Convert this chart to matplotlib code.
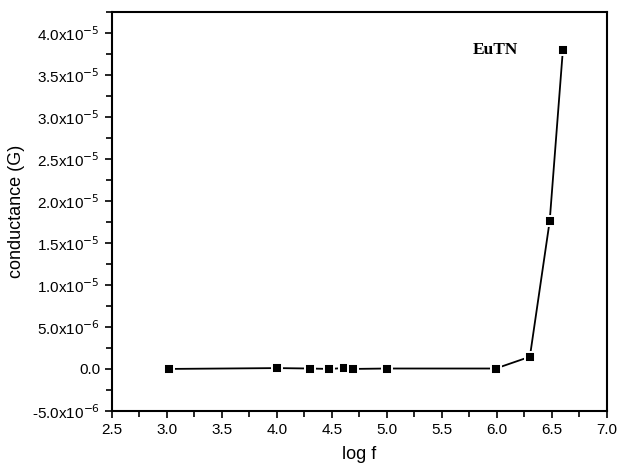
import matplotlib
matplotlib.use('Agg')
import matplotlib.pyplot as plt
from matplotlib.ticker import MultipleLocator, FuncFormatter

plt.rcParams['font.family'] = ['Liberation Sans', 'DejaVu Sans']

# log f and conductance (G)
log_f = [3.02, 4.0, 4.3, 4.47, 4.61, 4.69, 5.0, 5.99, 6.3, 6.48, 6.6]
conductance = [0.0, 0.1e-6, 0.05e-6, 0.0, 0.1e-6, 0.0, 0.05e-6, 0.05e-6,
               1.45e-6, 1.76e-5, 3.8e-5]

fig = plt.figure(figsize=(6.18, 4.68), dpi=100)
ax = fig.add_axes([0.181, 0.122, 0.801, 0.852])

ax.plot(log_f, conductance, color='black', lw=1.3)
# white edge gives the small gap between line and marker
ax.plot(log_f, conductance, ls='none', marker='s', ms=7.5, mew=1.4,
        markerfacecolor='black', markeredgecolor='white')

ax.set_xlim(2.5, 7.0)
ax.set_ylim(-5e-6, 4.25e-5)
ax.xaxis.set_major_locator(MultipleLocator(0.5))
ax.xaxis.set_minor_locator(MultipleLocator(0.25))
ax.yaxis.set_major_locator(MultipleLocator(5e-6))
ax.yaxis.set_minor_locator(MultipleLocator(2.5e-6))


def yfmt(v, pos):
    if abs(v) < 1e-12:
        return '0.0'
    exp = -5 if abs(v) >= 1e-5 - 1e-12 else -6
    return '%.1fx10$^{\\mathrm{-%d}}$' % (v / 10.0 ** exp, -exp)


ax.yaxis.set_major_formatter(FuncFormatter(yfmt))
ax.xaxis.set_major_formatter(FuncFormatter(lambda v, p: '%.1f' % v))

ax.tick_params(which='both', direction='out', width=1.2, labelsize=11)
ax.tick_params(which='major', length=5)
ax.tick_params(which='minor', length=4)
for s in ax.spines.values():
    s.set_linewidth(1.5)

ax.set_xlabel('log f', fontsize=13, labelpad=7)
ax.set_ylabel('conductance (G)', fontsize=13, labelpad=5)

ax.text(5.78, 3.8e-5, 'EuTN', family=['Liberation Serif', 'DejaVu Serif'],
        fontweight='bold', fontsize=12.5, va='center')

fig.savefig('out.png', dpi=100)
